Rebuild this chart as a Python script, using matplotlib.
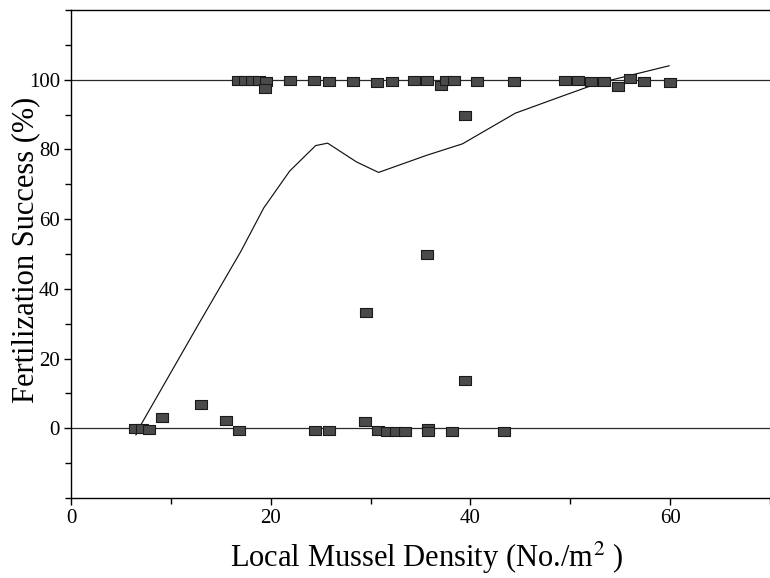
"""
Fertilization success against local mussel density, with the fitted curve
and the 0 % / 100 % reference lines.
"""
import matplotlib
matplotlib.use('Agg')
import matplotlib.pyplot as plt

# Observations near 100 %
high_x = [16.7, 17.4, 18.1, 18.8, 19.5, 19.4, 21.9, 24.3, 25.8, 28.2, 30.6, 32.1,
          34.3, 35.7, 37.1, 37.6, 38.4, 40.7, 44.4, 49.5, 50.8, 52.1, 53.4,
          54.8, 56.0, 57.4, 60.0]
high_y = [100.0, 99.8, 100.0, 99.8, 99.6, 97.5, 99.8, 99.8, 99.6, 99.7, 99.3, 99.5,
          100.0, 100.0, 98.5, 99.8, 99.8, 99.5, 99.5, 99.8, 99.8, 99.6, 99.5,
          98.3, 100.6, 99.5, 99.4]

# Observations near 0 % and in between
low_x = [6.4, 7.1, 7.8, 9.1, 13.0, 15.5, 16.8, 24.4, 25.8, 29.4, 30.7, 31.6,
         32.5, 33.4, 35.8, 35.8, 38.2, 43.4, 29.5, 35.7, 39.5, 39.5]
low_y = [0.0, 0.0, -0.3, 3.3, 7.0, 2.5, -0.5, -0.5, -0.5, 2.0, -0.5, -0.8,
         -0.8, -0.8, 0.0, -0.8, -0.8, -0.8, 33.5, 50.0, 13.8, 89.8]

# Fitted curve
curve_x = [6.5, 7.1, 12.7, 17.0, 19.3, 21.9, 24.5, 25.7, 28.6, 30.8, 35.6,
           39.2, 44.5, 49.2, 52.8, 59.9]
curve_y = [-1.9, 1.5, 29.5, 50.7, 63.2, 73.8, 81.1, 81.8, 76.4, 73.4, 78.3,
           81.6, 90.4, 95.3, 99.0, 104.0]

ref_levels = [0, 100]


def main():
    plt.rcParams['font.family'] = ['Liberation Serif', 'DejaVu Serif']
    plt.rcParams['mathtext.fontset'] = 'stix'

    fig = plt.figure(figsize=(7.7, 5.78), dpi=100)
    ax = fig.add_axes([0.0922, 0.1384, 0.9078, 0.8443])

    # Reference lines and fitted curve
    for level in ref_levels:
        ax.axhline(level, color='#2a2a2a', lw=0.9, zorder=1)
    ax.plot(curve_x, curve_y, color='#111111', lw=0.85, zorder=2)

    # Squares, slightly wider than tall like in the print
    box = [(-1, -0.72), (1, -0.72), (1, 0.72), (-1, 0.72), (-1, -0.72)]
    style = dict(linestyle='none', marker=box, ms=9, mfc='#4a4a4a',
                 mec='#1a1a1a', mew=0.8, zorder=3)
    ax.plot(high_x, high_y, **style)
    ax.plot(low_x, low_y, **style)

    ax.set_xlim(0, 70)
    ax.set_ylim(-20, 120)
    ax.set_xticks([0, 20, 40, 60])
    ax.set_xticks([10, 30, 50, 70], minor=True)
    ax.set_yticks([0, 20, 40, 60, 80, 100])
    ax.set_yticks([-20, -10, 10, 30, 50, 70, 90, 110, 120], minor=True)
    ax.tick_params(which='both', direction='out', length=5, width=1,
                   labelsize=15, pad=3)
    ax.tick_params(which='minor', length=4)

    ax.spines['right'].set_visible(False)
    for side in ['left', 'bottom', 'top']:
        ax.spines[side].set_linewidth(1.0)

    ax.set_xlabel('Local Mussel Density (No./m$^{2}$ )', fontsize=22)
    ax.xaxis.set_label_coords(0.509, -0.085)
    ax.set_ylabel('Fertilization Success (%)', fontsize=22)
    ax.yaxis.set_label_coords(-0.044, 0.508)

    fig.savefig('out.png', dpi=100)


if __name__ == '__main__':
    main()
